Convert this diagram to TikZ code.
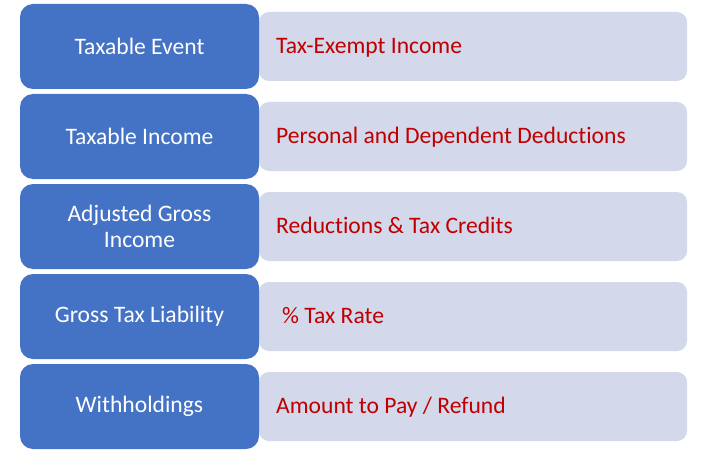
\documentclass[tikz,border=0pt]{standalone}
\usepackage{fontspec}
\setmainfont{Carlito}[Ligatures={NoCommon}]
\definecolor{bluebox}{HTML}{4472C4}
\definecolor{lightbox}{HTML}{D3D8EA}
\definecolor{redtext}{HTML}{C00000}
\begin{document}
\begin{tikzpicture}[x=1pt,y=-1pt,
  bluenode/.style={fill=bluebox, rounded corners=13pt, minimum width=239pt, minimum height=85pt, inner sep=0pt, text=white, font=\fontsize{23.6}{26}\selectfont, align=center},
  lightnode/.style={fill=lightbox, rounded corners=10pt, minimum width=428pt, minimum height=69pt, inner sep=0pt},
  redlabel/.style={text=redtext, font=\fontsize{23.6}{26}\selectfont, anchor=base west, inner sep=0pt}]
\useasboundingbox (0,0) rectangle (708,449);
\foreach \i/\y in {1/46.5,2/136.5,3/226.5,4/316.5,5/406.5}{
  \node[lightnode] (l\i) at (473,\y) {};
}
\node[bluenode] (b1) at (139.5,46.5) {Taxable Event};
\node[bluenode] (b2) at (139.5,136.5) {Taxable Income};
\node[bluenode] (b3) at (139.5,226.5) {Adjusted Gross\\Income};
\node[bluenode] (b4) at (139.5,316.5) {Gross Tax Liability};
\node[bluenode] (b5) at (139.5,406.5) {Withholdings};
\node[redlabel] (r1) at (276,53.5) {Tax-Exempt Income};
\node[redlabel] (r2) at (276,143.5) {Personal and Dependent Deductions};
\node[redlabel] (r3) at (276,233.5) {Reductions \& Tax Credits};
\node[redlabel] (r4) at (282,323.5) {\% Tax Rate};
\node[redlabel] (r5) at (276,413.5) {Amount to Pay / Refund};
\end{tikzpicture}
\end{document}
